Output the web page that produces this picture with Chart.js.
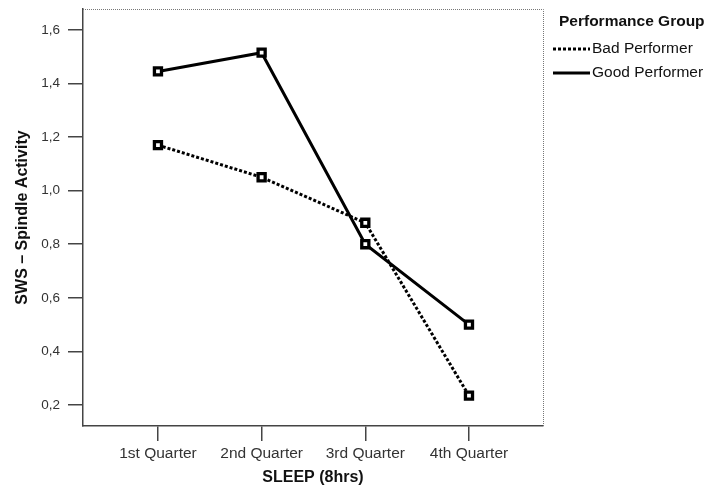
<!DOCTYPE html>
<html>
<head>
<meta charset="utf-8">
<script src="https://cdn.jsdelivr.net/npm/chart.js@4"></script>
<style>
  html, body { margin: 0; padding: 0; background: #fff; }
  #wrap { width: 709px; height: 491px; }
</style>
</head>
<body>
<div id="wrap"><canvas id="sleepChart" width="709" height="491"></canvas></div>
<script>
const quarters = ['1st Quarter', '2nd Quarter', '3rd Quarter', '4th Quarter'];
const badPerformer = [1.17, 1.05, 0.88, 0.235];
const goodPerformer = [1.445, 1.515, 0.80, 0.50];
const yTicks = [0.2, 0.4, 0.6, 0.8, 1.0, 1.2, 1.4, 1.6];

const FONT = '"Liberation Sans", Arial, sans-serif';

// gepunktete Rahmenlinie oben/rechts + Legende
const extras = {
  id: 'extras',
  afterDraw(chart) {
    const ctx = chart.ctx, a = chart.chartArea;
    ctx.save();
    ctx.strokeStyle = '#777';
    ctx.lineWidth = 1;
    ctx.setLineDash([1, 1]);
    ctx.beginPath();
    ctx.moveTo(a.left, a.top + 0.5);
    ctx.lineTo(a.right + 0.5, a.top + 0.5);
    ctx.lineTo(a.right + 0.5, a.bottom);
    ctx.stroke();
    ctx.setLineDash([]);

    ctx.fillStyle = '#111';
    ctx.textBaseline = 'middle';
    ctx.font = 'bold 15.5px ' + FONT;
    ctx.fillText('Performance Group', 559, 22);

    const items = [
      { label: 'Bad Performer', dash: [3, 2], y: 49 },
      { label: 'Good Performer', dash: [], y: 73 }
    ];
    ctx.font = '15.5px ' + FONT;
    items.forEach(it => {
      ctx.strokeStyle = '#000';
      ctx.lineWidth = 3;
      ctx.setLineDash(it.dash);
      ctx.beginPath();
      ctx.moveTo(553, it.y);
      ctx.lineTo(590, it.y);
      ctx.stroke();
      ctx.setLineDash([]);
      ctx.fillStyle = '#111';
      ctx.fillText(it.label, 592, it.y);
    });
    ctx.restore();
  }
};

const toPoints = arr => arr.map((v, i) => ({ x: i, y: v }));

new Chart(document.getElementById('sleepChart'), {
  type: 'line',
  data: {
    datasets: [
      {
        label: 'Bad Performer', data: toPoints(badPerformer),
        borderColor: '#000', borderWidth: 3, borderDash: [3, 2], borderCapStyle: 'butt',
        pointStyle: 'rect', pointRadius: 5, pointBorderWidth: 3.3,
        pointBackgroundColor: '#fff', pointBorderColor: '#000', tension: 0
      },
      {
        label: 'Good Performer', data: toPoints(goodPerformer),
        borderColor: '#000', borderWidth: 3,
        pointStyle: 'rect', pointRadius: 5, pointBorderWidth: 3.3,
        pointBackgroundColor: '#fff', pointBorderColor: '#000', tension: 0
      }
    ]
  },
  options: {
    responsive: false,
    animation: false,
    layout: { padding: { left: 0, top: 9, right: 166, bottom: 0 } },
    plugins: { legend: { display: false }, tooltip: { enabled: false } },
    scales: {
      x: {
        type: 'linear', min: -0.723, max: 3.714,
        afterBuildTicks: s => { s.ticks = quarters.map((q, i) => ({ value: i })); },
        afterFit: s => { s.height = 65; s.paddingLeft = 0; s.paddingRight = 0; },
        border: { display: true, color: '#444', width: 1.5 },
        grid: { drawOnChartArea: false, drawTicks: true, tickLength: 15, color: '#444', lineWidth: 1.5 },
        ticks: {
          padding: 3, color: '#333', font: { family: FONT, size: 15.5 },
          callback: v => quarters[v]
        },
        title: {
          display: true, text: 'SLEEP (8hrs)', color: '#111',
          font: { family: FONT, size: 16, weight: 'bold' }, padding: { top: 0, bottom: 4 }
        }
      },
      y: {
        min: 0.1216, max: 1.678,
        afterBuildTicks: s => { s.ticks = yTicks.map(v => ({ value: v })); },
        afterFit: s => { s.width = 83; s.paddingTop = 0; s.paddingBottom = 0; },
        border: { display: true, color: '#444', width: 1.5 },
        grid: { drawOnChartArea: false, drawTicks: true, tickLength: 15, color: '#444', lineWidth: 1.5 },
        ticks: {
          padding: 8, color: '#333', font: { family: FONT, size: 13.5 },
          callback: v => v.toFixed(1).replace('.', ',')
        },
        title: {
          display: true, text: 'SWS \u2013 Spindle Activity', color: '#111',
          font: { family: FONT, size: 16, weight: 'bold' }, padding: { top: 13, bottom: 0 }
        }
      }
    }
  },
  plugins: [extras]
});
</script>
</body>
</html>
